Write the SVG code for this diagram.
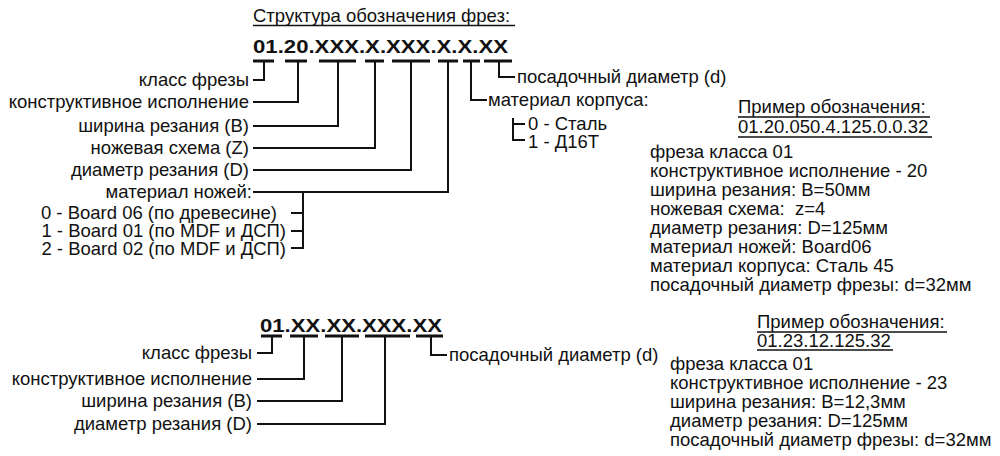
<svg xmlns="http://www.w3.org/2000/svg" width="1000" height="456" viewBox="0 0 1000 456">
<style>
text{font-family:"Liberation Sans",Arial,sans-serif;font-size:18.5px;fill:#111}
.code{font-weight:bold}
.end{text-anchor:end}
.bar{stroke:#111;stroke-width:3;fill:none}
.ln{stroke:#111;stroke-width:2;fill:none}
.ul{stroke:#111;stroke-width:1.5}
</style>
<rect width="1000" height="456" fill="#fff"/>

<g id="title1">
<text x="253" y="22">Структура обозначения фрез:</text>
<line class="ul" x1="253" y1="25.5" x2="515" y2="25.5"/>
</g>
<g id="code1"><text class="code" x="253" y="53" font-size="25" textLength="255" lengthAdjust="spacingAndGlyphs">01.20.XXX.X.XXX.X.X.XX</text></g>

<g id="connectors1">
<path class="bar" d="M253 61H274M285 61H307M319 61H356M365 61H384M392 61H430M438 61H458M463 61H480M484 61H512"/>
<path class="ln" d="M264 61V80H253M298 61V102H253M338 61V126H253M375 61V148H253M411 61V170H253M448 61V192H253M471 61V100H487M499 61V77H515"/>
<path class="ln" d="M303 192V248H291M291 213H303M291 231H303"/>
<path class="ln" d="M525 124H513M513 118V140H525"/>
</g>

<g id="lbl-class1"><text class="end" x="249" y="85.5">класс фрезы</text></g>
<g id="lbl-constr1"><text class="end" x="249" y="107.5">конструктивное исполнение</text></g>
<g id="lbl-width1"><text class="end" x="249" y="131.5">ширина резания (B)</text></g>
<g id="lbl-scheme1"><text class="end" x="249" y="153.5">ножевая схема (Z)</text></g>
<g id="lbl-diam1"><text class="end" x="249" y="175.5">диаметр резания (D)</text></g>
<g id="lbl-knife1">
<text class="end" x="252" y="197.5">материал ножей:</text>
<text class="end" x="277" y="218.5">0 - Board 06 (по древесине)</text>
<text class="end" x="286" y="237">1 - Board 01 (по MDF и ДСП)</text>
<text class="end" x="286" y="254.5">2 - Board 02 (по MDF и ДСП)</text>
</g>
<g id="lbl-bore1"><text x="517" y="83">посадочный диаметр (d)</text></g>
<g id="lbl-body1">
<text x="488" y="106">материал корпуса:</text>
<text x="528" y="129.5">0 - Сталь</text>
<text x="528" y="147.5">1 - Д16Т</text>
</g>

<g id="example1">
<text x="738" y="113">Пример обозначения:</text>
<line class="ul" x1="738" y1="117" x2="930" y2="117"/>
<text x="738" y="132.5">01.20.050.4.125.0.0.32</text>
<line class="ul" x1="738" y1="137" x2="932" y2="137"/>
<text x="650" y="157.5">фреза класса 01</text>
<text x="650" y="176.5">конструктивное исполнение - 20</text>
<text x="650" y="195.5">ширина резания: B=50мм</text>
<text x="650" y="214.5" xml:space="preserve">ножевая схема:  z=4</text>
<text x="650" y="233.5">диаметр резания: D=125мм</text>
<text x="650" y="252.5">материал ножей: Board06</text>
<text x="650" y="271.5">материал корпуса: Сталь 45</text>
<text x="650" y="290.5">посадочный диаметр фрезы: d=32мм</text>
</g>

<g id="code2"><text class="code" x="260" y="332" font-size="22.5" textLength="182" lengthAdjust="spacingAndGlyphs">01.XX.XX.XXX.XX</text></g>

<g id="connectors2">
<path class="bar" d="M261 336H282M290 336H318M325 336H359M365 336H410M416 336H443"/>
<path class="ln" d="M272 336V353H257M304 336V379H257M342 336V401H257M385 336V424H257M431 336V355H447"/>
</g>

<g id="lbl-class2"><text class="end" x="252" y="359">класс фрезы</text></g>
<g id="lbl-constr2"><text class="end" x="252" y="385">конструктивное исполнение</text></g>
<g id="lbl-width2"><text class="end" x="252" y="407">ширина резания (B)</text></g>
<g id="lbl-diam2"><text class="end" x="252" y="430">диаметр резания (D)</text></g>
<g id="lbl-bore2"><text x="449" y="361">посадочный диаметр (d)</text></g>

<g id="example2">
<text x="757" y="328">Пример обозначения:</text>
<line class="ul" x1="757" y1="332" x2="947" y2="332"/>
<text x="757" y="346.5">01.23.12.125.32</text>
<line class="ul" x1="757" y1="350" x2="893" y2="350"/>
<text x="670" y="370">фреза класса 01</text>
<text x="670" y="389">конструктивное исполнение - 23</text>
<text x="670" y="408">ширина резания: B=12,3мм</text>
<text x="670" y="427">диаметр резания: D=125мм</text>
<text x="670" y="446">посадочный диаметр фрезы: d=32мм</text>
</g>
</svg>
